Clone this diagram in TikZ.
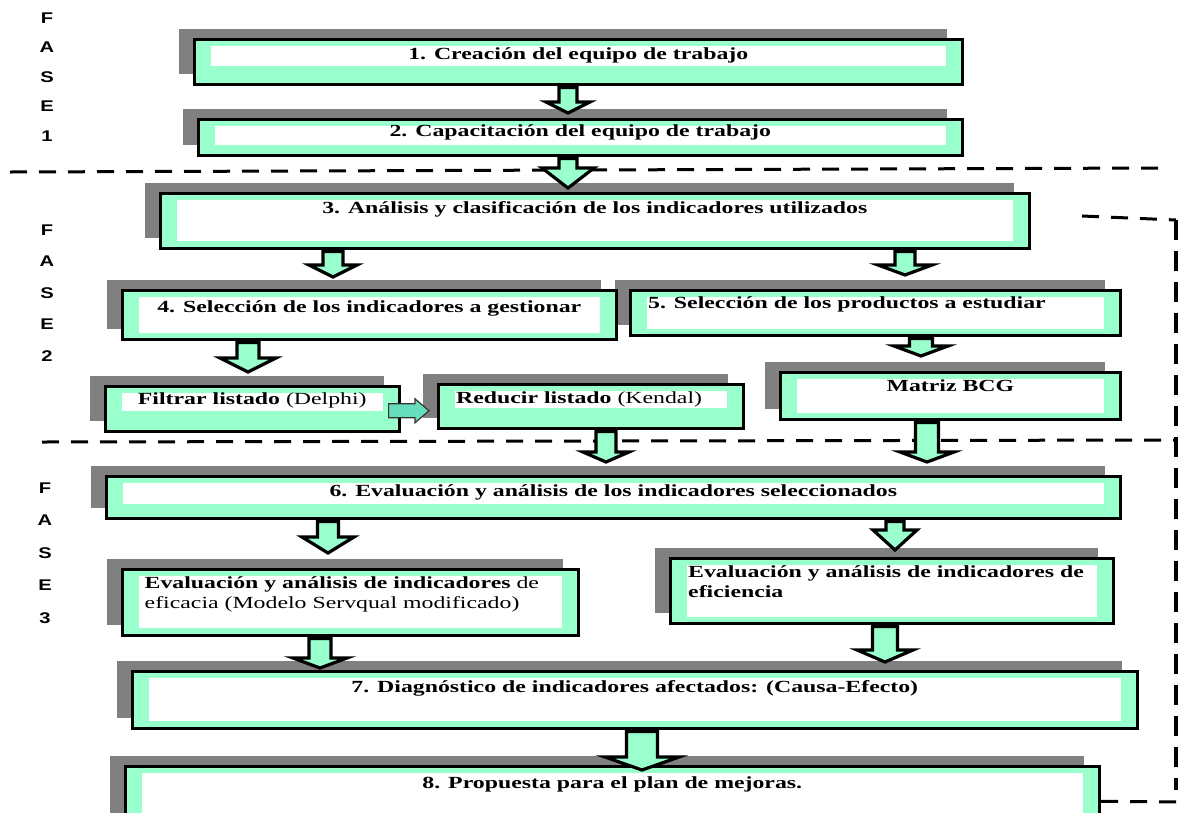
\documentclass[tikz,border=0pt]{standalone}
\usepackage{fontspec}
\usepackage{color}
\usetikzlibrary{calc, shadows}

\newfontfamily\letrapaso[FakeStretch=1.4]{Liberation Serif}
\newfontfamily\letrafase[FakeStretch=1.3]{Liberation Sans}

\definecolor{verdeagua}{RGB}{153,255,204}
\definecolor{sombra}{RGB}{128,128,128}
\definecolor{verdeflecha}{RGB}{102,221,187}

% block arrow going down: #2 = start, #3 = tip
\newcommand{\flecha}[3][]{%
  \draw[bloque, #1] let \p1 = #2, \p2 = #3 in
    (\x2-\anchocuerpo, \y1-1.5pt) -- (\x2-\anchocuerpo, \y2+\sobrapunta+\largopunta)
    -- (\x2-\anchopunta, \y2+\sobrapunta+\largopunta) -- (\x2, \y2+\sobrapunta)
    -- (\x2+\anchopunta, \y2+\sobrapunta+\largopunta) -- (\x2+\anchocuerpo, \y2+\sobrapunta+\largopunta)
    -- (\x2+\anchocuerpo, \y1-1.5pt) -- cycle;
}

\begin{document}
\begin{tikzpicture}[
            x = 1pt, y = -1pt, % one unit = one pixel
            line join = miter,
            cuerpo/.store in = \anchocuerpo, cuerpo = 9pt, % half width of shaft
            punta/.store in = \anchopunta, punta = 25pt, % half width of head
            largo/.store in = \largopunta, largo = 12pt, % length of head
            sobra/.store in = \sobrapunta, sobra = 0pt % tip above the next box
        ]

        \tikzset{
            etapa/.style = {
                rectangle, draw = black, line width = 3.6pt,
                fill = verdeagua, inner sep = 0pt, anchor = north west,
                general shadow = {fill = sombra, shadow xshift = -15pt, shadow yshift = 10pt},
                path picture = {\fill[white]
                    ([xshift = 16.5pt, yshift = -6.5pt]path picture bounding box.north west) rectangle
                    ([xshift = -16.5pt, yshift = #1]path picture bounding box.south east);}
            },
            etapa/.default = 6.5pt,
            rotulo/.style = {font = \letrapaso\fontsize{17pt}{20pt}\selectfont\bfseries, inner sep = 0pt},
            fase/.style = {font = \letrafase\fontsize{15.5pt}{#1}\selectfont\bfseries,
                align = center, inner sep = 0pt, anchor = north},
            bloque/.style = {draw = black, line width = 3.2pt, fill = verdeagua},
            flechita/.style = {draw = black!80, line width = 1.2pt, fill = verdeflecha},
            separador/.style = {line width = 3pt, dash pattern = on 17pt off 12pt}
        }

        \useasboundingbox (0,0) rectangle (1181,812);

        % phase separators
        \draw[separador] (10,172) -- (1158,168);
        \draw[separador] (1082,216) -- (1176,220);
        \draw[separador, line width = 4pt, dash pattern = on 20pt off 11pt] (1176,220) -- (1176,790);
        \draw[separador] (42,442) -- (1176,440);

        % phase labels
        \node[fase = 29.5pt] (f1) at (47,12.5) {F\\A\\S\\E\\1};
        \node[fase = 31.5pt] (f2) at (47,224.5) {F\\A\\S\\E\\2};
        \node[fase = 32.5pt] (f3) at (45,482.5) {F\\A\\S\\E\\3};

        % boxes
        \node[etapa = 18.5pt, minimum width = 768, minimum height = 45] (e1) at (192.5,37.5) {};
        \node[etapa = 10.5pt, minimum width = 764, minimum height = 36] (e2) at (196.5,117.5) {};
        \node[etapa = 7.5pt, minimum width = 869, minimum height = 55] (e3) at (158.5,191.5) {};
        \node[etapa, minimum width = 490, minimum height = 45] (e5) at (628.5,288.5) {};
        \node[etapa, minimum width = 494, minimum height = 49] (e4) at (120.5,288.5) {};
        \node[etapa = 20.5pt, minimum width = 294, minimum height = 45] (ef) at (103.5,384.5) {};
        \node[etapa = 20.5pt, minimum width = 305, minimum height = 44] (er) at (436.5,382.5) {};
        \node[etapa, minimum width = 340, minimum height = 47] (eb) at (778.5,370.5) {};
        \node[etapa = 14.5pt, minimum width = 1014, minimum height = 42] (e6) at (104.5,474.5) {};
        \node[etapa = 7.5pt, minimum width = 456, minimum height = 66] (ec) at (120.5,567.5) {};
        \node[etapa, minimum width = 443, minimum height = 65] (ei) at (668.5,556.5) {};
        \node[etapa = 7.5pt, minimum width = 1005, minimum height = 57] (e7) at (130.5,669.5) {};
        \node[etapa = 7.5pt, minimum width = 974, minimum height = 70] (e8) at (123.5,764.5) {};

        \draw[separador] (e8.east) -- (1181,802);

        % texts
        \node[rotulo, anchor = base] (t1) at ([yshift = -21.5pt]e1.north) {1. Creación del equipo de trabajo};
        \node[rotulo, anchor = base] (t2) at ([yshift = -18.5pt]e2.north) {2. Capacitación del equipo de trabajo};
        \node[rotulo, anchor = base] (t3) at ([yshift = -21.5pt]e3.north) {3. Análisis y clasificación de los indicadores utilizados};
        \node[rotulo, anchor = base] (t4) at ([yshift = -23.5pt]e4.north) {4. Selección de los indicadores a gestionar};
        \node[rotulo, anchor = base west] (t5) at ([xshift = 19.5pt, yshift = -19.5pt]e5.north west) {5. Selección de los productos a estudiar};
        \node[rotulo, anchor = base] (tf) at ([yshift = -19.5pt]ef.north) {Filtrar listado {\mdseries (Delphi)}};
        \node[rotulo, anchor = base west] (tr) at ([xshift = 19.5pt, yshift = -20.5pt]er.north west) {Reducir listado {\mdseries (Kendal)}};
        \node[rotulo, anchor = base] (tb) at ([yshift = -20.5pt]eb.north) {Matriz BCG};
        \node[rotulo, anchor = base] (t6) at ([yshift = -21.5pt]e6.north) {6. Evaluación y análisis de los indicadores seleccionados};
        % base of a two-line node is its last line
        \node[rotulo, anchor = base west, align = left] (tc) at ([xshift = 24pt, yshift = -40.5pt]ec.north west)
            {Evaluación y análisis de indicadores {\mdseries de}\\{\mdseries eficacia (Modelo Servqual modificado)}};
        \node[rotulo, anchor = base west, align = left] (ti) at ([xshift = 19.5pt, yshift = -40.5pt]ei.north west)
            {Evaluación y análisis de indicadores de\\eficiencia};
        \node[rotulo, anchor = base] (t7) at ([yshift = -22.5pt]e7.north) {7. Diagnóstico de indicadores afectados: (Causa-Efecto)};
        \node[rotulo, anchor = base] (t8) at ([yshift = -23.5pt]e8.north) {8. Propuesta para el plan de mejoras.};

        % arrows
        \flecha[cuerpo = 9pt, punta = 22pt, largo = 11pt, sobra = 4.5pt]{(568,0 |- e1.south)}{(568,0 |- e2.north)}
        \flecha[cuerpo = 9pt, punta = 26pt, largo = 20pt, sobra = 3.5pt]{(568,0 |- e2.south)}{(568,0 |- e3.north)}
        \flecha[cuerpo = 10pt, punta = 24pt, largo = 12pt, sobra = 11.5pt]{(333,0 |- e3.south)}{(333,0 |- e4.north)}
        \flecha[cuerpo = 10pt, punta = 27pt, largo = 10pt, sobra = 13.5pt]{(905,0 |- e3.south)}{(905,0 |- e5.north)}
        \flecha[cuerpo = 11pt, punta = 28pt, largo = 14pt, sobra = 12.5pt]{(248,0 |- e4.south)}{(248,0 |- ef.north)}
        \flecha[cuerpo = 11.5pt, punta = 27pt, largo = 10pt, sobra = 14.5pt]{(921,0 |- e5.south)}{(921,0 |- eb.north)}
        \flecha[cuerpo = 10pt, punta = 23pt, largo = 10pt, sobra = 12.5pt]{(606,0 |- er.south)}{(606,0 |- e6.north)}
        \flecha[cuerpo = 11.5pt, punta = 27pt, largo = 10pt, sobra = 12.5pt]{(927,0 |- eb.south)}{(927,0 |- e6.north)}
        \flecha[cuerpo = 10.5pt, punta = 26pt, largo = 16pt, sobra = 14.5pt]{(328,0 |- e6.south)}{(328,0 |- ec.north)}
        \flecha[cuerpo = 9pt, punta = 22pt, largo = 20pt, sobra = 6.5pt]{(895,0 |- e6.south)}{(895,0 |- ei.north)}
        \flecha[cuerpo = 11pt, punta = 27pt, largo = 10pt, sobra = 1.5pt]{(320,0 |- ec.south)}{(320,0 |- e7.north)}
        \flecha[cuerpo = 12.5pt, punta = 28pt, largo = 12pt, sobra = 7.5pt]{(885,0 |- ei.south)}{(885,0 |- e7.north)}
        \flecha[cuerpo = 15.5pt, punta = 37pt, largo = 13pt, sobra = -5.5pt]{(642,0 |- e7.south)}{(642,0 |- e8.north)}

        \draw[flechita] let \p1 = (ef.east), \p2 = (er.west) in
            (\x1-12.5pt, \y1+5pt) -- (\x2-21.5pt, \y1+5pt) -- (\x2-21.5pt, \y1+10pt) -- (\x2-7.5pt, \y1-2pt)
            -- (\x2-21.5pt, \y1-14pt) -- (\x2-21.5pt, \y1-9pt) -- (\x1-12.5pt, \y1-9pt) -- cycle;
\end{tikzpicture}
\end{document}
